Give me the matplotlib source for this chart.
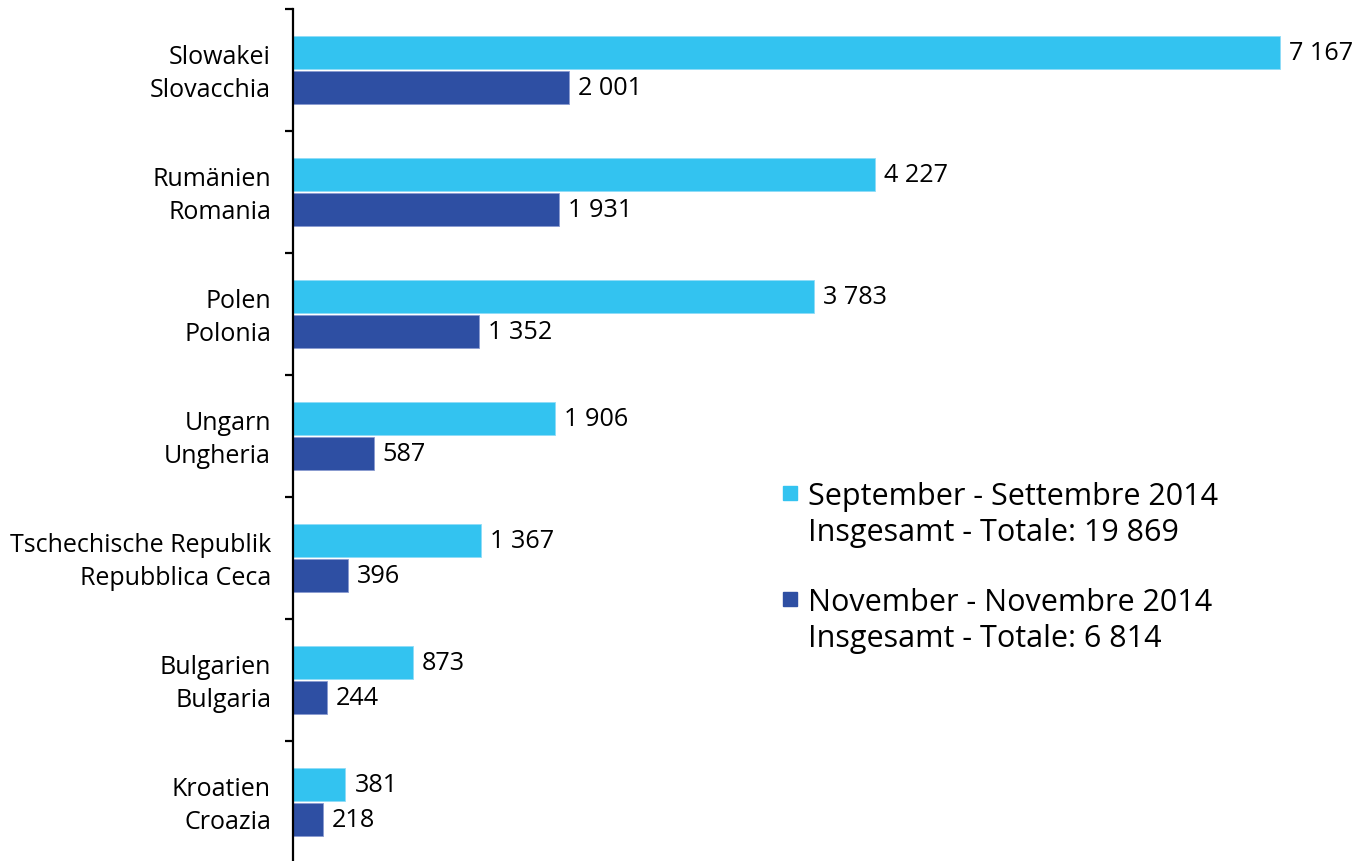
import matplotlib.pyplot as plt
import matplotlib.patches as mpatches
import numpy as np

plt.rcParams['font.family'] = ['Open Sans', 'DejaVu Sans']

# data
countries_de = ['Slowakei', 'Rumänien', 'Polen', 'Ungarn', 'Tschechische Republik', 'Bulgarien', 'Kroatien']
countries_it = ['Slovacchia', 'Romania', 'Polonia', 'Ungheria', 'Repubblica Ceca', 'Bulgaria', 'Croazia']
sept = [7167, 4227, 3783, 1906, 1367, 873, 381]
nov = [2001, 1931, 1352, 587, 396, 244, 218]
legend_labels = ['September - Settembre 2014\nInsgesamt - Totale: 19 869',
                 'November - Novembre 2014\nInsgesamt - Totale: 6 814']

c_light = '#33C3F0'
c_dark = '#2E4FA3'

def fmt(v):
    return '{:,}'.format(v).replace(',', ' ')

fig = plt.figure(figsize=(13.58, 8.62), dpi=100)
ax = fig.add_axes([293/1358, -2/862, 1047/1358, 854/862])

n = len(countries_de)
y = np.arange(n) + 0.5
h = 0.275
ax.barh(y - 0.142, sept, height=h, color=c_light, edgecolor='#8fdcf7', linewidth=0.6)
ax.barh(y + 0.142, nov, height=h, color=c_dark, edgecolor='#8a9bd0', linewidth=0.6)

ax.set_xlim(0, 7603)
ax.set_ylim(n, 0)

for i in range(n):
    ax.annotate(fmt(sept[i]), (sept[i], y[i] - 0.142), xytext=(9, 0), textcoords='offset pixels',
                va='center', ha='left', fontsize=18.2)
    ax.annotate(fmt(nov[i]), (nov[i], y[i] + 0.142), xytext=(9, 0), textcoords='offset pixels',
                va='center', ha='left', fontsize=18.2)
    ax.annotate(countries_de[i] + '\n' + countries_it[i], (0, y[i]), xytext=(-22, -3),
                textcoords='offset pixels', va='center', ha='right', fontsize=18,
                linespacing=1.38, annotation_clip=False)

ax.set_yticks(np.arange(n + 1))
ax.set_yticklabels([])
ax.set_xticks([])
for s in ['top', 'right', 'bottom']:
    ax.spines[s].set_visible(False)
ax.spines['left'].set_linewidth(1.6)
ax.tick_params(axis='y', direction='out', length=6, width=1.6)

# legend
leg_y = [494, 600]
for k, col in enumerate([c_light, c_dark]):
    fig.patches.append(mpatches.Rectangle((783/1358, 1 - (leg_y[k] + 7)/862), 14/1358, 14/862,
                                          transform=fig.transFigure, color=col))
    fig.text(808/1358, 1 - (leg_y[k] - 12)/862, legend_labels[k], fontsize=22,
             va='top', ha='left', linespacing=1.25)

fig.savefig('out.png', dpi=100)
